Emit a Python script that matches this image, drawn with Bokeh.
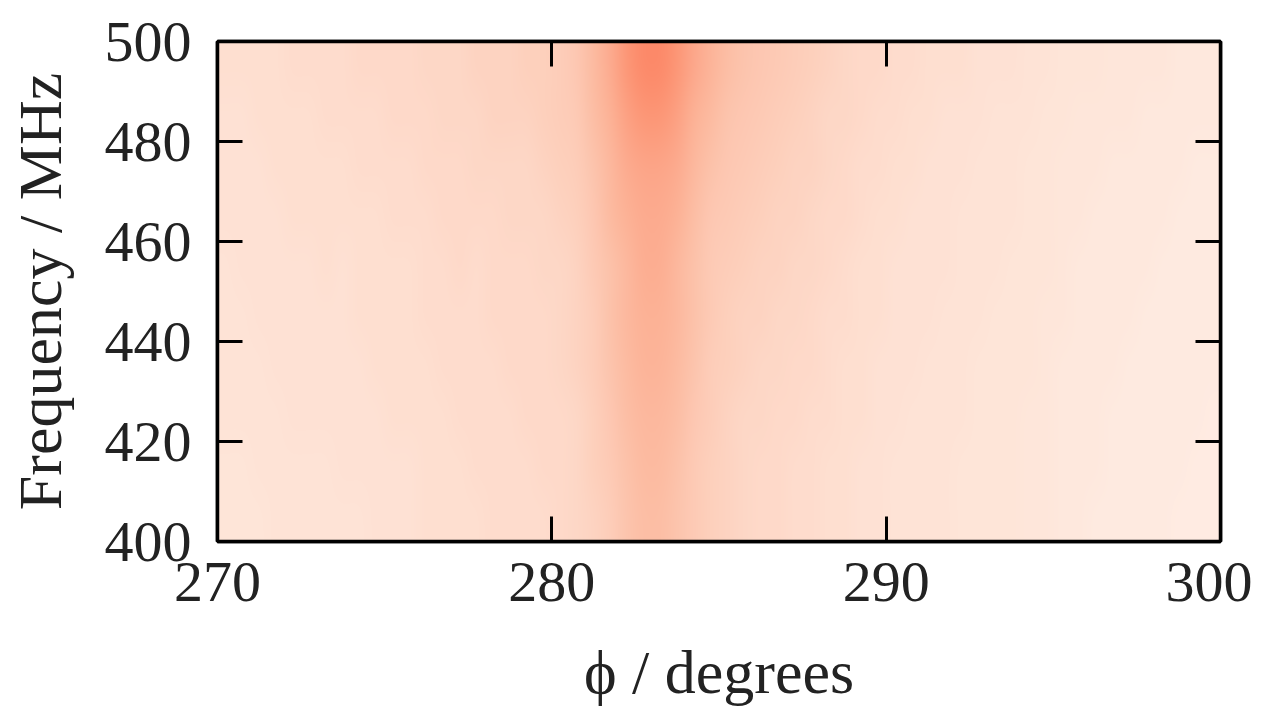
import numpy as np
from bokeh.plotting import figure
from bokeh.models import LinearColorMapper, LinearAxis, FixedTicker, Range1d
from bokeh.embed import file_html
from bokeh.resources import INLINE

# ---- data ----
phi_start, phi_end = 270, 300          # degrees
freq_start, freq_end = 400, 500        # MHz
x_ticks = [270, 280, 290, 300]
y_ticks = [400, 420, 440, 460, 480, 500]

# relative intensity, rows = 10 MHz bins (bottom -> top), columns = 0.5 degree bins (270 -> 300)
row_400 = [0.10,0.10,0.10,0.11,0.11,0.11,0.11,0.11,0.11,0.12,
           0.12,0.12,0.13,0.13,0.13,0.13,0.14,0.14,0.14,0.14,
           0.15,0.16,0.17,0.19,0.22,0.24,0.24,0.22,0.20,0.18,
           0.17,0.16,0.15,0.15,0.14,0.14,0.13,0.13,0.12,0.12,
           0.11,0.11,0.11,0.11,0.10,0.10,0.10,0.10,0.09,0.09,
           0.08,0.08,0.07,0.07,0.07,0.07,0.07,0.06,0.06,0.06]
row_410 = [0.10,0.10,0.11,0.11,0.11,0.11,0.11,0.12,0.12,0.12,
           0.12,0.12,0.13,0.13,0.13,0.14,0.14,0.14,0.14,0.15,
           0.15,0.16,0.18,0.20,0.23,0.25,0.25,0.23,0.20,0.18,
           0.17,0.16,0.15,0.15,0.14,0.14,0.13,0.13,0.12,0.12,
           0.11,0.11,0.11,0.11,0.10,0.10,0.10,0.10,0.09,0.09,
           0.08,0.08,0.08,0.07,0.07,0.07,0.07,0.07,0.06,0.06]
row_420 = [0.11,0.11,0.11,0.11,0.12,0.12,0.12,0.12,0.12,0.12,
           0.13,0.13,0.13,0.13,0.14,0.14,0.14,0.14,0.15,0.15,
           0.15,0.16,0.18,0.21,0.24,0.26,0.26,0.24,0.21,0.19,
           0.17,0.16,0.16,0.15,0.15,0.14,0.14,0.13,0.13,0.12,
           0.12,0.11,0.11,0.11,0.11,0.10,0.10,0.10,0.09,0.09,
           0.08,0.08,0.08,0.07,0.07,0.07,0.07,0.07,0.07,0.06]
row_430 = [0.11,0.11,0.11,0.12,0.12,0.12,0.12,0.12,0.12,0.13,
           0.13,0.13,0.13,0.14,0.14,0.14,0.14,0.15,0.15,0.15,
           0.16,0.17,0.19,0.22,0.25,0.27,0.27,0.25,0.22,0.19,
           0.18,0.17,0.16,0.16,0.15,0.15,0.14,0.13,0.13,0.12,
           0.12,0.12,0.11,0.11,0.11,0.10,0.10,0.10,0.10,0.09,
           0.08,0.08,0.08,0.08,0.07,0.07,0.07,0.07,0.07,0.07]
row_440 = [0.11,0.11,0.12,0.12,0.12,0.12,0.12,0.12,0.13,0.13,
           0.13,0.13,0.14,0.14,0.14,0.14,0.15,0.15,0.15,0.15,
           0.16,0.17,0.19,0.23,0.26,0.28,0.28,0.26,0.23,0.20,
           0.18,0.17,0.17,0.16,0.16,0.15,0.14,0.14,0.13,0.13,
           0.12,0.12,0.12,0.11,0.11,0.11,0.10,0.10,0.10,0.09,
           0.09,0.08,0.08,0.08,0.08,0.07,0.07,0.07,0.07,0.07]
row_450 = [0.11,0.12,0.12,0.12,0.12,0.12,0.13,0.12,0.13,0.13,
           0.13,0.13,0.14,0.14,0.15,0.14,0.15,0.15,0.15,0.16,
           0.16,0.17,0.20,0.23,0.26,0.29,0.29,0.26,0.23,0.20,
           0.19,0.18,0.17,0.17,0.16,0.16,0.15,0.14,0.13,0.13,
           0.12,0.12,0.12,0.12,0.11,0.11,0.11,0.10,0.10,0.10,
           0.09,0.08,0.08,0.08,0.08,0.08,0.07,0.07,0.07,0.07]
row_460 = [0.12,0.12,0.12,0.12,0.13,0.13,0.13,0.13,0.13,0.13,
           0.14,0.14,0.14,0.15,0.15,0.15,0.15,0.16,0.16,0.16,
           0.17,0.18,0.21,0.25,0.28,0.30,0.30,0.28,0.24,0.21,
           0.20,0.19,0.18,0.17,0.17,0.16,0.15,0.15,0.14,0.13,
           0.13,0.12,0.12,0.12,0.11,0.11,0.11,0.11,0.10,0.10,
           0.09,0.09,0.08,0.08,0.08,0.08,0.08,0.07,0.07,0.07]
row_470 = [0.12,0.12,0.12,0.13,0.13,0.13,0.13,0.13,0.14,0.14,
           0.14,0.14,0.15,0.15,0.15,0.16,0.16,0.16,0.16,0.17,
           0.18,0.19,0.22,0.26,0.30,0.32,0.32,0.30,0.26,0.23,
           0.21,0.20,0.19,0.18,0.17,0.17,0.16,0.15,0.14,0.14,
           0.13,0.13,0.12,0.12,0.12,0.11,0.11,0.11,0.10,0.10,
           0.09,0.09,0.09,0.08,0.08,0.08,0.08,0.08,0.07,0.07]
row_480 = [0.12,0.12,0.13,0.13,0.13,0.13,0.14,0.14,0.14,0.14,
           0.15,0.15,0.15,0.16,0.16,0.16,0.17,0.17,0.17,0.18,
           0.19,0.20,0.24,0.28,0.33,0.36,0.36,0.33,0.28,0.25,
           0.22,0.21,0.20,0.19,0.18,0.17,0.16,0.16,0.15,0.14,
           0.14,0.13,0.13,0.12,0.12,0.12,0.11,0.11,0.11,0.10,
           0.10,0.09,0.09,0.09,0.09,0.08,0.08,0.08,0.08,0.08]
row_490 = [0.13,0.13,0.13,0.13,0.14,0.14,0.14,0.14,0.15,0.15,
           0.15,0.15,0.16,0.16,0.16,0.17,0.17,0.17,0.18,0.18,
           0.19,0.21,0.25,0.30,0.36,0.40,0.40,0.36,0.31,0.27,
           0.24,0.22,0.21,0.20,0.19,0.18,0.17,0.16,0.15,0.15,
           0.14,0.14,0.13,0.13,0.13,0.12,0.12,0.12,0.11,0.11,
           0.10,0.10,0.10,0.09,0.09,0.09,0.09,0.08,0.08,0.08]

intensity = np.array([row_400, row_410, row_420, row_430, row_440,
                      row_450, row_460, row_470, row_480, row_490])

# ---- colour map (sequential reds) ----
reds_anchor = ["#fff5f0", "#fee0d2", "#fcbba1", "#fc9272", "#fb6a4a",
               "#ef3b2c", "#cb181d", "#a50f15", "#67000d"]


def build_palette(anchors, n=256):
    rgb = np.array([[int(c[i:i + 2], 16) for i in (1, 3, 5)] for c in anchors], dtype=float)
    pos = np.linspace(0, 1, len(anchors))
    t = np.linspace(0, 1, n)
    out = []
    for v in t:
        r, g, b = (np.interp(v, pos, rgb[:, k]) for k in range(3))
        out.append("#%02x%02x%02x" % (int(round(r)), int(round(g)), int(round(b))))
    return out


mapper = LinearColorMapper(palette=build_palette(reds_anchor), low=0.0, high=1.0)

FONT = "Liberation Serif"

p = figure(width=1252, height=713,
           x_range=Range1d(phi_start, phi_end), y_range=Range1d(freq_start, freq_end),
           output_backend="svg", toolbar_location=None,
           min_border_left=217, min_border_right=32,
           min_border_top=41, min_border_bottom=172,
           x_axis_label="ϕ / degrees", y_axis_label="Frequency / MHz")

p.image(image=[intensity], x=phi_start, y=freq_start,
        dw=phi_end - phi_start, dh=freq_end - freq_start, color_mapper=mapper)

p.grid.visible = False
p.outline_line_color = "black"
p.outline_line_width = 3.5
p.background_fill_color = "white"
p.border_fill_color = "white"

p.add_layout(LinearAxis(), "above")
p.add_layout(LinearAxis(), "right")

for ax in p.xaxis:
    ax.ticker = FixedTicker(ticks=x_ticks)
for ax in p.yaxis:
    ax.ticker = FixedTicker(ticks=y_ticks)

for ax in p.axis:
    ax.axis_line_color = "black"
    ax.axis_line_width = 3.5
    ax.major_tick_line_color = "black"
    ax.major_tick_line_width = 3
    ax.major_tick_in = 25
    ax.major_tick_out = 0
    ax.minor_tick_line_color = None
    ax.major_label_text_font = FONT
    ax.major_label_text_color = "#222222"
    ax.axis_label_text_font = FONT
    ax.axis_label_text_color = "#222222"
    ax.axis_label_text_font_style = "normal"

for ax in [p.above[0], p.right[0]]:
    ax.major_label_text_font_size = "10px"
    ax.major_label_text_color = None
    ax.major_label_standoff = 0

p.below[0].major_label_text_font_size = "58px"
p.below[0].major_label_standoff = 21
p.below[0].axis_label_text_font_size = "62px"
p.below[0].axis_label_standoff = 34

p.left[0].major_label_text_font_size = "58px"
p.left[0].major_label_standoff = 26
p.left[0].axis_label_text_font_size = "62px"
p.left[0].axis_label_standoff = 28

# display-time bilinear smoothing of the heat-map image (like imshow interpolation)
NY, NX = intensity.shape
smooth_js = """
<script>
(function(){
  var NX = %d, NY = %d, XL = 'http://www.w3.org/1999/xlink';
  var done = new WeakSet();
  function collect(root, out) {
    var els = root.querySelectorAll('*');
    for (var i = 0; i < els.length; i++) {
      var el = els[i];
      if (el.shadowRoot) collect(el.shadowRoot, out);
      if (el.tagName && el.tagName.toLowerCase() === 'image') out.push(el);
    }
  }
  function smooth(el) {
    var href = el.getAttribute('href') || el.getAttributeNS(XL, 'href');
    if (!href) return;
    var img = new Image();
    img.onload = function() {
      var w = Math.max(img.naturalWidth, Math.round(parseFloat(el.getAttribute('width')) || 0));
      var h = Math.max(img.naturalHeight, Math.round(parseFloat(el.getAttribute('height')) || 0));
      var small = document.createElement('canvas'); small.width = NX; small.height = NY;
      var sc = small.getContext('2d'); sc.imageSmoothingEnabled = false;
      sc.drawImage(img, 0, 0, img.naturalWidth, img.naturalHeight, 0, 0, NX, NY);
      var big = document.createElement('canvas'); big.width = w; big.height = h;
      var bc = big.getContext('2d'); bc.imageSmoothingEnabled = true; bc.imageSmoothingQuality = 'high';
      bc.drawImage(small, 0, 0, NX, NY, 0, 0, w, h);
      var url = big.toDataURL();
      if (el.hasAttribute('href')) el.setAttribute('href', url);
      el.setAttributeNS(XL, 'xlink:href', url);
      el.style.imageRendering = 'auto';
    };
    img.src = href;
  }
  var tries = 0;
  var timer = setInterval(function(){
    var out = []; collect(document, out);
    out.forEach(function(el){ if (!done.has(el)) { done.add(el); smooth(el); } });
    if (++tries > 200) clearInterval(timer);
  }, 30);
})();
</script>
""" % (NX, NY)

html = file_html(p, INLINE)
html = html.replace("</body>", smooth_js + "</body>")
open("out.html", "w").write(html)
